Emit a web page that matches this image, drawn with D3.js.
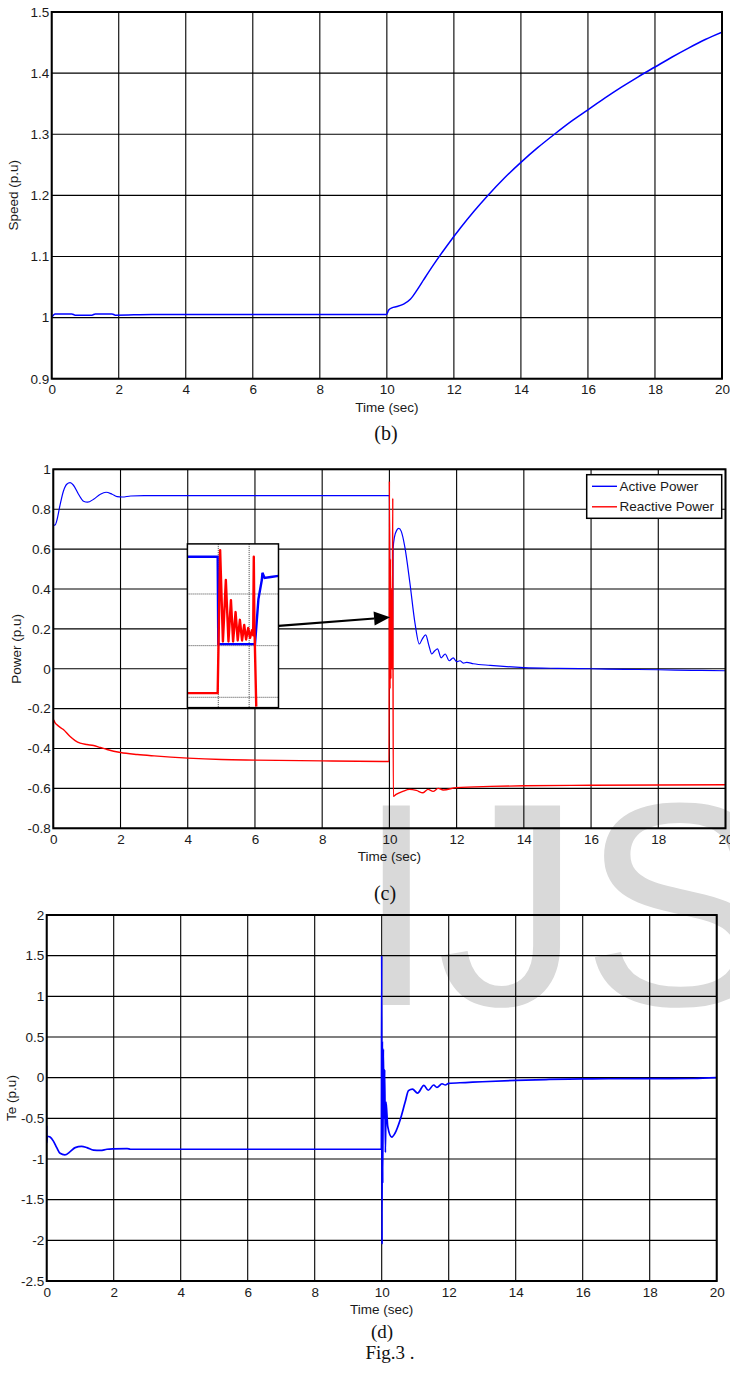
<!DOCTYPE html>
<html><head><meta charset="utf-8">
<script src="https://cdn.jsdelivr.net/npm/d3@7"></script>
<style>
html,body{margin:0;padding:0;background:#fff;}
svg{display:block;}
</style></head><body>
<svg id="fig" width="730" height="1384"></svg>
<script>
// ---------------- DATA ----------------
const timeTicks = [0,2,4,6,8,10,12,14,16,18,20];
const timeTickLabels = ["0","2","4","6","8","10","12","14","16","18","20"];

const speedTicks = [0.9,1.0,1.1,1.2,1.3,1.4,1.5];
const speedTickLabels = ["0.9","1","1.1","1.2","1.3","1.4","1.5"];
const powerTicks = [-0.8,-0.6,-0.4,-0.2,0,0.2,0.4,0.6,0.8,1];
const powerTickLabels = ["-0.8","-0.6","-0.4","-0.2","0","0.2","0.4","0.6","0.8","1"];
const teTicks = [-2.5,-2,-1.5,-1,-0.5,0,0.5,1,1.5,2];
const teTickLabels = ["-2.5","-2","-1.5","-1","-0.5","0","0.5","1","1.5","2"];

// (b) speed
const speedT = [0,0.1,0.6,0.7,1.2,1.3,1.8,1.9,3,5,8,9.99,10.05,10.15,10.3,10.5,10.7,10.9,11.1,11.4,11.8,12.2,12.6,13,13.5,14,14.5,15,15.5,16,16.5,17,17.5,18,18.5,19,19.5,20];
const speedV = [1.0,1.006,1.006,1.004,1.004,1.006,1.006,1.004,1.005,1.005,1.005,1.005,1.012,1.016,1.018,1.022,1.03,1.045,1.062,1.087,1.118,1.147,1.174,1.199,1.228,1.254,1.278,1.3,1.321,1.34,1.359,1.377,1.394,1.41,1.426,1.441,1.455,1.467];

// (c) active power
const activeT = [0,0.002,0.05,0.1,0.2,0.3,0.4,0.5,0.6,0.75,0.9,1.02,1.2,1.4,1.57,1.75,1.9,2.05,2.3,2.7,9.99,10.0,10.02,10.09,10.11,10.15,10.22,10.28,10.35,10.46,10.61,10.76,10.89,10.98,11.08,11.17,11.26,11.35,11.43,11.54,11.66,11.78,11.9,12.0,12.1,12.2,12.3,12.5,13,14,15,16,17,18,19,20];
const activeV = [0,0.72,0.72,0.74,0.82,0.89,0.925,0.933,0.92,0.875,0.84,0.835,0.85,0.875,0.885,0.875,0.863,0.861,0.866,0.868,0.868,0.87,0.02,0.02,0.6,0.66,0.695,0.704,0.69,0.61,0.43,0.23,0.124,0.15,0.17,0.12,0.074,0.09,0.1,0.055,0.074,0.04,0.055,0.035,0.04,0.028,0.032,0.025,0.017,0.006,0.002,0,-0.003,-0.005,-0.008,-0.01];

// (c) reactive power
const reactiveT = [0,0.002,0.05,0.1,0.3,0.5,0.65,0.8,1.0,1.2,1.4,1.6,2,2.5,3,4,5,6,8,9.99,10.0,10.02,10.03,10.045,10.06,10.075,10.09,10.1,10.115,10.2,10.4,10.6,10.8,11.0,11.15,11.3,11.45,11.6,12,13,14,16,20];
const reactiveV = [-0.35,-0.255,-0.27,-0.28,-0.305,-0.34,-0.36,-0.373,-0.38,-0.385,-0.395,-0.405,-0.42,-0.43,-0.437,-0.448,-0.455,-0.458,-0.462,-0.465,0.94,-0.1,0.55,-0.05,0.4,0.0,0.3,0.855,-0.64,-0.63,-0.615,-0.605,-0.61,-0.622,-0.605,-0.615,-0.6,-0.608,-0.596,-0.59,-0.587,-0.584,-0.582];

// (c) inset (zoomed view, own grid units)
const insetXTicks = [1,2];
const insetYTicks = [0,1,2];
const insetActiveX = [0,0.98,1.0,2.19,2.3,2.41,2.43,2.5,2.7,2.95];
const insetActiveY = [2.72,2.72,1.03,1.03,1.9,2.27,2.41,2.31,2.33,2.35];
const insetReactiveX = [0,0.98,1.06,1.15,1.245,1.33,1.41,1.48,1.56,1.63,1.70,1.77,1.84,1.90,1.97,2.03,2.09,2.13,2.15,2.17,2.23];
const insetReactiveY = [0.08,0.08,2.85,1.08,2.27,1.08,1.88,1.08,1.65,1.1,1.5,1.1,1.4,1.12,1.34,1.15,1.3,1.2,2.72,1.4,-0.18];

// (d) electromagnetic torque
const teT = [0,0.002,0.02,0.1,0.2,0.3,0.4,0.54,0.7,0.85,1.04,1.2,1.4,1.6,1.8,2.0,2.4,2.5,9.99,10.0,10.01,10.02,10.03,10.05,10.07,10.09,10.11,10.13,10.18,10.3,10.4,10.55,10.7,10.8,10.92,11.07,11.26,11.39,11.55,11.65,11.8,11.9,12,12.5,13,14,15,16,18,19.3,20];
const teV = [-0.59,-0.8,-0.72,-0.73,-0.78,-0.86,-0.93,-0.95,-0.91,-0.86,-0.845,-0.86,-0.89,-0.895,-0.88,-0.875,-0.872,-0.88,-0.88,1.5,-2.05,0.45,-1.3,0.35,-0.5,0.1,-0.92,-0.3,-0.6,-0.73,-0.68,-0.52,-0.3,-0.16,-0.14,-0.19,-0.095,-0.155,-0.09,-0.12,-0.075,-0.09,-0.07,-0.06,-0.05,-0.033,-0.022,-0.015,-0.012,-0.01,0];

// ---------------- DRAWING ----------------
const FONT = "'Liberation Sans', Arial, sans-serif";
const SERIF = "'Liberation Serif', 'Times New Roman', serif";
const svg = d3.select("#fig");

// watermark (behind everything)
svg.append("text").attr("x",356).attr("y",1005)
  .attr("font-family",FONT).attr("font-size",290).attr("fill","#d9d9d9")
  .text("IJS");

function zip(a,b){ return a.map((d,i)=>[d,b[i]]); }

function panel(cfg){
  const x = d3.scaleLinear().domain([0,20]).range([cfg.left,cfg.right]);
  const y = d3.scaleLinear().domain(cfg.yDomain).range([cfg.bottom,cfg.top]);
  const g = svg.append("g");
  const id = "clip"+cfg.name;
  svg.append("clipPath").attr("id",id).append("rect")
    .attr("x",cfg.left).attr("y",cfg.top).attr("width",cfg.right-cfg.left).attr("height",cfg.bottom-cfg.top);
  // grid
  g.append("g").selectAll("line.v").data(timeTicks).join("line")
    .attr("x1",d=>x(d)).attr("x2",d=>x(d)).attr("y1",cfg.top).attr("y2",cfg.bottom)
    .attr("stroke","#000").attr("stroke-width",1.1);
  g.append("g").selectAll("line.h").data(cfg.yTicks).join("line")
    .attr("y1",d=>y(d)).attr("y2",d=>y(d)).attr("x1",cfg.left).attr("x2",cfg.right)
    .attr("stroke","#000").attr("stroke-width",1.1);
  // series
  const line = d3.line().x(d=>x(d[0])).y(d=>y(d[1])).curve(d3.curveMonotoneX);
  cfg.series.forEach(s=>{
    g.append("path").attr("d",line(zip(s.t,s.v))).attr("fill","none")
      .attr("stroke",s.color).attr("stroke-width",s.width).attr("stroke-linejoin","round")
      .attr("clip-path",`url(#${id})`);
  });
  // box
  g.append("rect").attr("x",cfg.left).attr("y",cfg.top).attr("width",cfg.right-cfg.left).attr("height",cfg.bottom-cfg.top)
    .attr("fill","none").attr("stroke","#000").attr("stroke-width",2);
  // axes labels
  const ax = g.append("g").attr("transform",`translate(0,${cfg.bottom})`)
    .call(d3.axisBottom(x).tickValues(timeTicks).tickSize(0).tickPadding(6).tickFormat((d,i)=>timeTickLabels[i]));
  const ay = g.append("g").attr("transform",`translate(${cfg.left},0)`)
    .call(d3.axisLeft(y).tickValues(cfg.yTicks).tickSize(0).tickPadding(2.5).tickFormat((d,i)=>cfg.yTickLabels[i]));
  [ax,ay].forEach(a=>{ a.select(".domain").remove(); a.selectAll("text").attr("font-family",FONT).attr("font-size",13.5).attr("fill","#1a1a1a"); });
  g.append("text").attr("x",(cfg.left+cfg.right)/2).attr("y",cfg.bottom+33)
    .attr("text-anchor","middle").attr("font-family",FONT).attr("font-size",13.5).attr("fill","#1a1a1a").text("Time (sec)");
  g.append("text").attr("transform",`translate(${cfg.yLabelX},${(cfg.top+cfg.bottom)/2}) rotate(-90)`)
    .attr("text-anchor","middle").attr("dominant-baseline","central")
    .attr("font-family",FONT).attr("font-size",13.5).attr("fill","#1a1a1a").text(cfg.yLabel);
  return {x,y,g};
}

// (b)
panel({name:"b",left:51.7,right:722,top:12,bottom:378.7,yDomain:[0.9,1.5],yTicks:speedTicks,yTickLabels:speedTickLabels,
  yLabel:"Speed (p.u)",yLabelX:13,series:[{t:speedT,v:speedV,color:"#0000ff",width:1.5}]});

// (c)
const pc = panel({name:"c",left:53.3,right:725.5,top:469.3,bottom:828.3,yDomain:[-0.8,1],yTicks:powerTicks,yTickLabels:powerTickLabels,
  yLabel:"Power (p.u)",yLabelX:16.5,series:[
    {t:activeT,v:activeV,color:"#0000ff",width:1.2},
    {t:reactiveT,v:reactiveV,color:"#ff0000",width:1.4}]});

// inset placed in (c)'s data coords
const insetBox = {t0:3.99,t1:6.70,p0:0.626,p1:-0.195};
const ix0 = pc.x(insetBox.t0), ix1 = pc.x(insetBox.t1), iy0 = pc.y(insetBox.p0), iy1 = pc.y(insetBox.p1);
const ix = d3.scaleLinear().domain([0,2.95]).range([ix0,ix1]);
const iy = d3.scaleLinear().domain([-0.2,2.97]).range([iy1,iy0]);
const ig = svg.append("g");
ig.append("rect").attr("x",ix0).attr("y",iy0).attr("width",ix1-ix0).attr("height",iy1-iy0).attr("fill","#fff");
ig.selectAll("line.iv").data(insetXTicks).join("line")
  .attr("x1",d=>ix(d)).attr("x2",d=>ix(d)).attr("y1",iy0).attr("y2",iy1)
  .attr("stroke","#444").attr("stroke-width",1).attr("stroke-dasharray","1,1");
ig.selectAll("line.ih").data(insetYTicks).join("line")
  .attr("y1",d=>iy(d)).attr("y2",d=>iy(d)).attr("x1",ix0).attr("x2",ix1)
  .attr("stroke","#444").attr("stroke-width",1).attr("stroke-dasharray","1,1");
svg.append("clipPath").attr("id","clipInset").append("rect").attr("x",ix0).attr("y",iy0).attr("width",ix1-ix0).attr("height",iy1-iy0);
const iline = d3.line().x(d=>ix(d[0])).y(d=>iy(d[1]));
ig.append("path").attr("d",iline(zip(insetActiveX,insetActiveY))).attr("fill","none").attr("stroke","#0000ff").attr("stroke-width",2.4).attr("clip-path","url(#clipInset)");
ig.append("path").attr("d",iline(zip(insetReactiveX,insetReactiveY))).attr("fill","none").attr("stroke","#ff0000").attr("stroke-width",2.4).attr("stroke-linejoin","round").attr("clip-path","url(#clipInset)");
ig.append("rect").attr("x",ix0).attr("y",iy0).attr("width",ix1-ix0).attr("height",iy1-iy0).attr("fill","none").attr("stroke","#000").attr("stroke-width",1.5);

// arrow (in (c)'s data coords)
const arrowFrom = [6.70,0.215], arrowTo = [10.02,0.258];
{
  const x1 = pc.x(arrowFrom[0]), y1 = pc.y(arrowFrom[1]), x2 = pc.x(arrowTo[0]), y2 = pc.y(arrowTo[1]);
  const L = Math.hypot(x2-x1,y2-y1), ux=(x2-x1)/L, uy=(y2-y1)/L, hl=16, hw=7;
  const bx = x2-ux*hl, by = y2-uy*hl;
  svg.append("line").attr("x1",x1).attr("y1",y1).attr("x2",bx).attr("y2",by).attr("stroke","#000").attr("stroke-width",2.2);
  svg.append("polygon").attr("points",[[x2,y2],[bx-uy*hw,by+ux*hw],[bx+uy*hw,by-ux*hw]].map(p=>p.join(",")).join(" ")).attr("fill","#000");
}

// legend
const legendItems = [{label:"Active Power",color:"#0000ff"},{label:"Reactive Power",color:"#ff0000"}];
const lg = svg.append("g");
lg.append("rect").attr("x",586.7).attr("y",474.7).attr("width",135).attr("height",43.6).attr("fill","#fff").attr("stroke","#000").attr("stroke-width",1.5);
legendItems.forEach((it,i)=>{
  const yy = 486.3 + i*20.5;
  lg.append("line").attr("x1",592).attr("x2",617).attr("y1",yy).attr("y2",yy).attr("stroke",it.color).attr("stroke-width",1.4);
  lg.append("text").attr("x",619.5).attr("y",yy).attr("dominant-baseline","central").attr("font-family",FONT).attr("font-size",13.5).attr("fill","#1a1a1a").text(it.label);
});

// (d)
panel({name:"d",left:46.7,right:716.7,top:915,bottom:1281,yDomain:[-2.5,2],yTicks:teTicks,yTickLabels:teTickLabels,
  yLabel:"Te (p.u)",yLabelX:11,series:[{t:teT,v:teV,color:"#0000ff",width:1.7}]});

// captions
[["(b)",386,433,20],["(c)",385,893,20],["(d)",382,1331,19],["Fig.3 .",390,1352,19]].forEach(c=>{
  svg.append("text").attr("x",c[1]).attr("y",c[2]).attr("text-anchor","middle").attr("dominant-baseline","central")
    .attr("font-family",SERIF).attr("font-size",c[3]).attr("fill","#111").text(c[0]);
});
</script>
</body></html>
